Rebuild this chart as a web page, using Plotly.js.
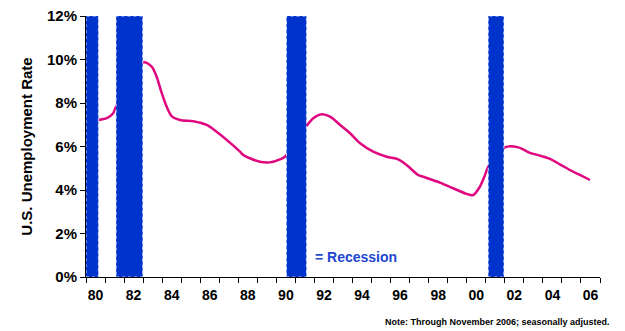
<!DOCTYPE html>
<html>
<head>
<meta charset="utf-8">
<script src="https://cdn.plot.ly/plotly-3.0.1.min.js"></script>
<style>
  html, body { margin: 0; padding: 0; background: #fff; }
  #chart { width: 625px; height: 331px; }
</style>
</head>
<body>
<div id="chart"></div>
<script>
// U.S. unemployment rate (percent), decimal year vs. rate
const years = [
  1980.65, 1981.09, 1981.43, 1981.58,
  1983.01, 1983.45, 1983.71, 1983.98, 1984.24, 1984.50, 1984.94, 1985.64,
  1986.34, 1986.86, 1987.56, 1988.09, 1988.26, 1988.61, 1989.13, 1989.66,
  1990.19, 1990.45,
  1991.59, 1991.94, 1992.38, 1992.82, 1993.35, 1993.87, 1994.40, 1995.09,
  1995.79, 1996.40, 1996.84, 1997.45, 1997.72, 1998.59, 1999.29, 2000.00,
  2000.34, 2000.69, 2000.96, 2001.13,
  2002.01, 2002.71, 2003.32, 2003.84, 2004.37, 2004.89, 2005.42, 2005.95,
  2006.47
];
const rates = [
  7.22, 7.30, 7.53, 7.83,
  9.87, 9.67, 9.21, 8.45, 7.83, 7.40, 7.22, 7.16,
  6.99, 6.68, 6.18, 5.76, 5.61, 5.46, 5.30, 5.27,
  5.41, 5.53,
  6.95, 7.30, 7.48, 7.37, 6.99, 6.61, 6.15, 5.76,
  5.53, 5.41, 5.15, 4.69, 4.61, 4.34, 4.08, 3.82,
  3.77, 4.15, 4.69, 5.07,
  5.96, 5.96, 5.71, 5.58, 5.43, 5.18, 4.92, 4.69,
  4.46
];

// Recession periods (decimal years)
const recessionStart = [1980.00, 1981.58, 1990.53, 2001.13];
const recessionEnd   = [1980.65, 1982.98, 1991.58, 2001.95];

// Axis ticks
const yTicks = [0, 2, 4, 6, 8, 10, 12];
const yTickLabels = ['0%', '2%', '4%', '6%', '8%', '10%', '12%'];
const xTickYears = [1980, 1982, 1984, 1986, 1988, 1990, 1992, 1994, 1996, 1998, 2000, 2002, 2004, 2006];
const xTickLabels = ['80', '82', '84', '86', '88', '90', '92', '94', '96', '98', '00', '02', '04', '06'];

const FONT = '"Liberation Sans", Arial, Helvetica, sans-serif';
const BLUE = '#0033CC';
const X_RANGE = [1980, 2007];

// one tick mark per year; labels sit in the middle of each labelled year
const yearTicks = [];
for (let yr = X_RANGE[0]; yr <= X_RANGE[1]; yr++) yearTicks.push(yr);
const labelPositions = xTickYears.map(yr => yr + 0.5);

const shapes = recessionStart.map((s, i) => ({
  type: 'rect', xref: 'x', yref: 'y',
  x0: s, x1: recessionEnd[i], y0: 0, y1: 12,
  fillcolor: BLUE,
  line: { color: 'rgba(215,225,255,0.95)', width: 1, dash: 'dot' },
  layer: 'above'
}));

const trace = {
  type: 'scatter', mode: 'lines',
  x: years, y: rates,
  line: { color: '#E0067F', width: 2.5, shape: 'spline', smoothing: 0.8 },
  hoverinfo: 'skip'
};

// invisible carrier so the label axis is drawn
const labelTrace = {
  type: 'scatter', mode: 'none', xaxis: 'x2', yaxis: 'y',
  x: X_RANGE, y: [0, 0], hoverinfo: 'skip'
};

const layout = {
  width: 625, height: 331,
  margin: { l: 86, r: 25, t: 16, b: 54 },
  paper_bgcolor: '#fff', plot_bgcolor: '#fff',
  showlegend: false,
  font: { family: FONT, color: '#000' },
  xaxis: {
    range: X_RANGE,
    tickvals: yearTicks,
    showticklabels: false,
    ticks: 'outside', ticklen: 5, tickwidth: 1, tickcolor: '#000',
    showline: true, linecolor: '#000', linewidth: 1,
    showgrid: false, zeroline: false
  },
  xaxis2: {
    overlaying: 'x', anchor: 'y', side: 'bottom',
    range: X_RANGE,
    tickvals: labelPositions, ticktext: xTickLabels,
    ticks: 'outside', ticklen: 5, tickcolor: 'rgba(0,0,0,0)',
    showline: false, showgrid: false, zeroline: false,
    tickfont: { family: FONT, size: 14, weight: 700, color: '#000' }
  },
  yaxis: {
    range: [0, 12],
    tickvals: yTicks, ticktext: yTickLabels,
    ticks: 'outside', ticklen: 5, tickwidth: 1, tickcolor: '#000',
    showline: true, linecolor: '#000', linewidth: 1,
    showgrid: false, zeroline: false,
    tickfont: { family: FONT, size: 15, weight: 700, color: '#000' },
    title: { text: 'U.S. Unemployment Rate', standoff: 10,
             font: { family: FONT, size: 15, weight: 700, color: '#000' } }
  },
  shapes: shapes,
  annotations: [
    {
      xref: 'x', yref: 'y', x: 1991.9, y: 0.92,
      xanchor: 'left', yanchor: 'middle', showarrow: false,
      text: '= Recession',
      font: { family: FONT, size: 14, weight: 700, color: '#1E46D2' }
    },
    {
      xref: 'paper', yref: 'paper', x: 1.0233, y: -0.172,
      xanchor: 'right', yanchor: 'middle', showarrow: false,
      text: 'Note: Through November 2006; seasonally adjusted.',
      font: { family: FONT, size: 9, weight: 700, color: '#000' }
    }
  ]
};

Plotly.newPlot('chart', [trace, labelTrace], layout, { staticPlot: true, displayModeBar: false });
</script>
</body>
</html>
